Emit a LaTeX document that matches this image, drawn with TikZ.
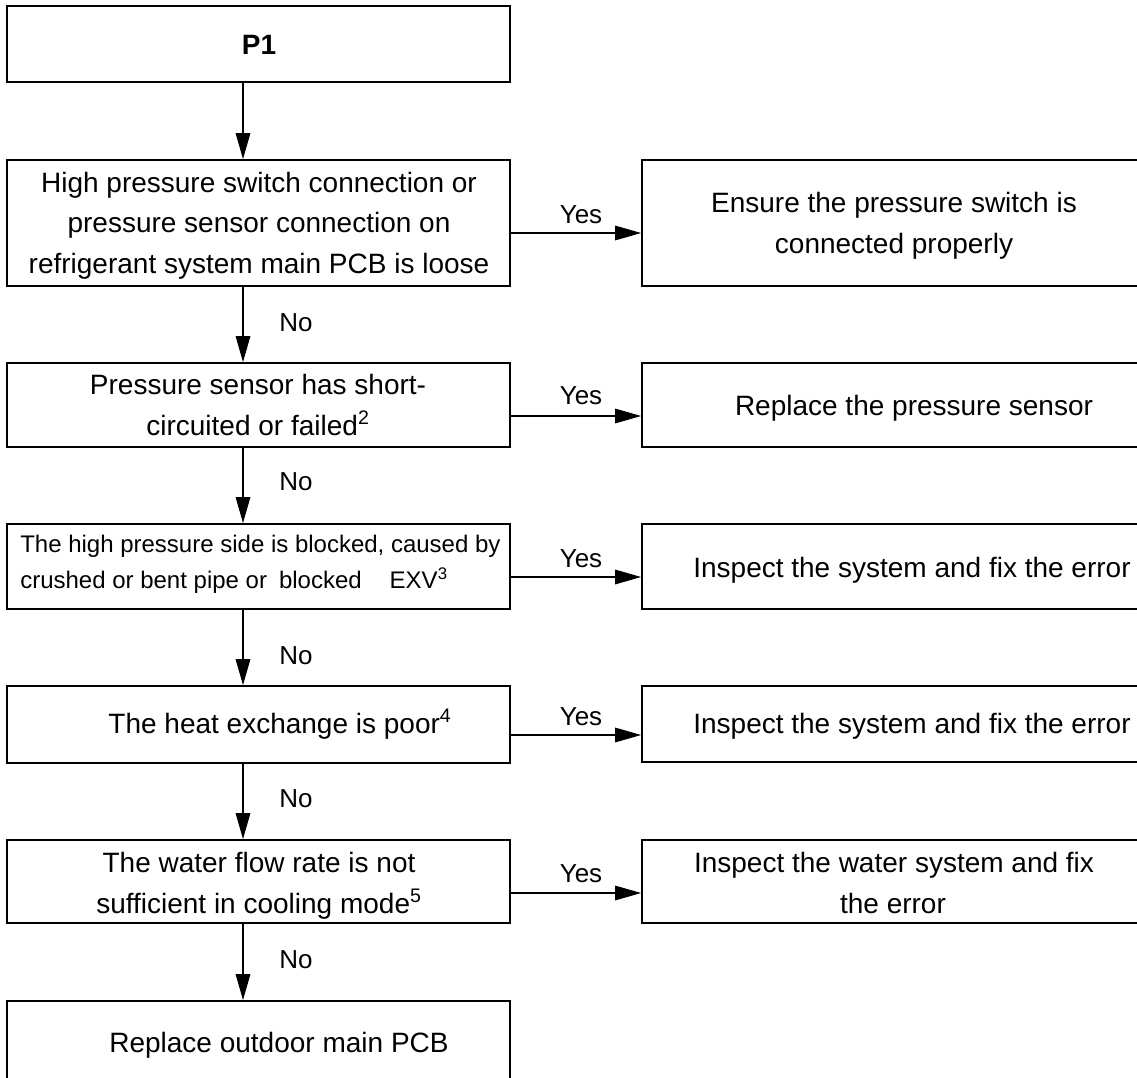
\documentclass[tikz,border=0pt]{standalone}
\usepackage{fontspec}
\setmainfont{Liberation Sans}
\usetikzlibrary{arrows.meta,fit}
\begin{document}
\begin{tikzpicture}[x=0.75pt,y=-0.75pt,
  box/.style={draw, line width=1.4pt, inner sep=0pt, rectangle},
  txt/.style={anchor=base, inner sep=0pt, font=\fontsize{21pt}{25pt}\selectfont},
  txtl/.style={anchor=base west, inner sep=0pt, font=\fontsize{18pt}{22pt}\selectfont},
  lbl/.style={anchor=base, inner sep=0pt, font=\fontsize{19.5pt}{23pt}\selectfont},
  lbll/.style={anchor=base west, inner sep=0pt, font=\fontsize{19.5pt}{23pt}\selectfont},
  arr/.style={-{Triangle[length=19.5pt,width=11pt]}, line width=0.8pt}]
\useasboundingbox (0,0) rectangle (1137,1077);
\clip (0,0) rectangle (1137,1077);

% left column boxes
\node[box, fit={(7,6)(510,82)}] (p1) {};
\node[box, fit={(7,160)(510,286)}] (b2) {};
\node[box, fit={(7,363)(510,447)}] (b3) {};
\node[box, fit={(7,524)(510,609)}] (b4) {};
\node[box, fit={(7,686)(510,763)}] (b5) {};
\node[box, fit={(7,840)(510,923)}] (b6) {};
\node[box, fit={(7,1001)(510,1095)}] (b7) {};

% right column boxes
\node[box, fit={(642,160)(1150,286)}] (r1) {};
\node[box, fit={(642,363)(1150,447)}] (r2) {};
\node[box, fit={(642,524)(1150,609)}] (r3) {};
\node[box, fit={(642,686)(1150,762)}] (r4) {};
\node[box, fit={(642,840)(1150,923)}] (r5) {};

% texts
\node[txt, font=\fontsize{21pt}{25pt}\selectfont\bfseries] (tp1) at (259,55) {P1};
\node[txt] (t2a) at (259,192) {High pressure switch connection or};
\node[txt] (t2b) at (259,232) {pressure sensor connection on};
\node[txt] (t2c) at (259,273) {refrigerant system main PCB is loose};
\node[txt] (t3a) at (258,394) {Pressure sensor has short-};
\node[txt] (t3b) at (258,435) {circuited or failed\textsuperscript{2}};
\node[txtl] (t4a) at (20,552) {The high pressure side is blocked, caused by};
\node[txtl] (t4b) at (20,588) {crushed or bent pipe or\hspace{9pt}blocked\hspace{21pt}EXV\textsuperscript{3}};
\node[txt] (t5) at (280,733) {The heat exchange is poor\textsuperscript{4}};
\node[txt] (t6a) at (259,872) {The water flow rate is not};
\node[txt] (t6b) at (259,913) {sufficient in cooling mode\textsuperscript{5}};
\node[txt] (t7) at (279,1052) {Replace outdoor main PCB};

\node[txt] (s1a) at (894,212) {Ensure the pressure switch is};
\node[txt] (s1b) at (894,253) {connected properly};
\node[txt] (s2) at (914,415) {Replace the pressure sensor};
\node[txt] (s3) at (912,577) {Inspect the system and fix the error};
\node[txt] (s4) at (912,733) {Inspect the system and fix the error};
\node[txt] (s5a) at (894,872) {Inspect the water system and fix};
\node[txt] (s5b) at (893,913) {the error};

% vertical arrows
\coordinate (ax) at (243,0);
\draw[arr] (p1.south -| ax) -- (b2.north -| ax);
\draw[arr] (b2.south -| ax) -- (b3.north -| ax);
\draw[arr] (b3.south -| ax) -- (b4.north -| ax);
\draw[arr] (b4.south -| ax) -- (b5.north -| ax);
\draw[arr] (b5.south -| ax) -- (b6.north -| ax);
\draw[arr] (b6.south -| ax) -- (b7.north -| ax);

% No labels
\node[lbll] (n1) at (279,331) {No};
\node[lbll] (n2) at (279,490) {No};
\node[lbll] (n3) at (279,664) {No};
\node[lbll] (n4) at (279,807) {No};
\node[lbll] (n5) at (279,968) {No};

% horizontal arrows
\draw[arr] (b2.east |- 0,233) -- (r1.west |- 0,233);
\draw[arr] (b3.east |- 0,416) -- (r2.west |- 0,416);
\draw[arr] (b4.east |- 0,577) -- (r3.west |- 0,577);
\draw[arr] (b5.east |- 0,735) -- (r4.west |- 0,735);
\draw[arr] (b6.east |- 0,893) -- (r5.west |- 0,893);

% Yes labels
\node[lbl] (y1) at (581,223) {Yes};
\node[lbl] (y2) at (581,404) {Yes};
\node[lbl] (y3) at (581,567) {Yes};
\node[lbl] (y4) at (581,725) {Yes};
\node[lbl] (y5) at (581,882) {Yes};
\end{tikzpicture}
\end{document}
